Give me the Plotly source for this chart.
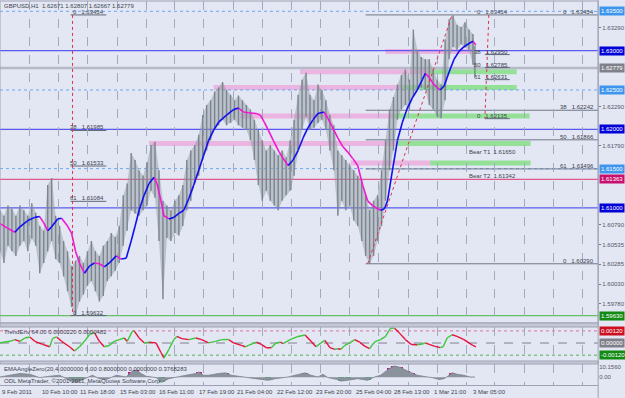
import plotly.graph_objects as go

W, H = 625, 398
XR = 602  # right edge of the plotting area (px)


def fx(x):
    return x / W


def fy(y):
    return 1 - y / H


# ---------------- data ----------------
title_text = "GBPUSD,H1  1.62671 1.62807 1.62667 1.62779"

time_labels = ["9 Feb 2011", "10 Feb 10:00", "11 Feb 18:00", "15 Feb 03:00", "16 Feb 11:00",
               "17 Feb 19:00", "21 Feb 04:00", "22 Feb 12:00", "23 Feb 20:00", "25 Feb 04:00",
               "28 Feb 13:00", "1 Mar 21:00", "3 Mar 05:00"]
time_label_pos = [0, 40, 79, 119, 158, 198, 237, 277, 316, 356, 395, 435, 474]
grid_pos = [30, 59, 88, 118, 147, 176, 205, 235, 264, 293, 323, 352, 381, 411, 440, 469, 498, 528, 557, 586]

bar_x = [0, 4, 8, 12, 16, 20, 24, 28, 32, 36, 40, 44, 48, 52, 56, 60, 64, 68, 72, 76,
         80, 84, 88, 92, 96, 100, 104, 108, 112, 116, 120, 124, 128, 132, 136, 140, 144, 148, 152, 156,
         160, 164, 168, 172, 176, 180, 184, 188, 192, 196, 200, 204, 208, 212, 216, 220, 224, 228, 232, 236,
         240, 244, 248, 252, 256, 260, 264, 268, 272, 276, 280, 284, 288, 292, 296, 300, 304, 308, 312, 316,
         320, 324, 328, 332, 336, 340, 344, 348, 352, 356, 360, 364, 368, 372, 376, 380, 384, 388, 392, 396,
         400, 404, 408, 412, 416, 420, 424, 428, 432, 436, 440, 444, 448, 452, 456, 460, 464, 468, 472, 476, 478]
bar_high = [1.6097, 1.6090, 1.6103, 1.6099, 1.6090, 1.6103, 1.6097, 1.6090, 1.6106, 1.6094,
            1.6077, 1.6071, 1.6129, 1.6138, 1.6090, 1.6077, 1.6058, 1.6045, 1.6026, 1.6033,
            1.6039, 1.6030, 1.6045, 1.6058, 1.6045, 1.6039, 1.6052, 1.6058, 1.6068, 1.6063,
            1.6077, 1.6116, 1.6131, 1.6170, 1.6161, 1.6148, 1.6141, 1.6158, 1.6180, 1.6184,
            1.6148, 1.6109, 1.6103, 1.6097, 1.6109, 1.6116, 1.6129, 1.6161, 1.6173, 1.6180,
            1.6193, 1.6218, 1.6231, 1.6237, 1.6248, 1.6253, 1.6260, 1.6250, 1.6244, 1.6237,
            1.6243, 1.6237, 1.6231, 1.6225, 1.6212, 1.6199, 1.6186, 1.6173, 1.6180, 1.6173,
            1.6167, 1.6173, 1.6164, 1.6186, 1.6212, 1.6244, 1.6263, 1.6272, 1.6244, 1.6237,
            1.6257, 1.6250, 1.6237, 1.6218, 1.6205, 1.6173, 1.6167, 1.6161, 1.6154, 1.6148,
            1.6141, 1.6135, 1.6116, 1.6097, 1.6109, 1.6116, 1.6148, 1.6186, 1.6225, 1.6241,
            1.6257, 1.6269, 1.6276, 1.6263, 1.6327, 1.6301, 1.6292, 1.6289, 1.6289, 1.6276,
            1.6263, 1.6257, 1.6314, 1.6340, 1.6345, 1.6333, 1.6330, 1.6336, 1.6327, 1.6321, 1.6306]
bar_low = [1.6045, 1.6030, 1.6052, 1.6045, 1.6039, 1.6052, 1.6058, 1.6045, 1.6061, 1.6052,
           1.6017, 1.6030, 1.6045, 1.6058, 1.6035, 1.6030, 1.6013, 1.5994, 1.5974, 1.5963,
           1.5981, 1.5990, 1.6001, 1.6007, 1.5994, 1.5981, 1.5988, 1.6007, 1.6013, 1.6020,
           1.6030, 1.6052, 1.6071, 1.6097, 1.6093, 1.6090, 1.6097, 1.6103, 1.6122, 1.6113,
           1.6058, 1.5984, 1.6062, 1.6058, 1.6068, 1.6065, 1.6077, 1.6097, 1.6109, 1.6131,
           1.6141, 1.6161, 1.6173, 1.6186, 1.6199, 1.6205, 1.6212, 1.6205, 1.6208, 1.6212,
           1.6205, 1.6202, 1.6199, 1.6186, 1.6161, 1.6129, 1.6109, 1.6122, 1.6109, 1.6103,
           1.6097, 1.6109, 1.6116, 1.6122, 1.6141, 1.6173, 1.6199, 1.6216, 1.6199, 1.6202,
           1.6208, 1.6212, 1.6199, 1.6173, 1.6148, 1.6090, 1.6109, 1.6097, 1.6103, 1.6084,
           1.6077, 1.6058, 1.6039, 1.6029, 1.6039, 1.6058, 1.6077, 1.6109, 1.6148, 1.6173,
           1.6212, 1.6225, 1.6231, 1.6225, 1.6241, 1.6250, 1.6253, 1.6250, 1.6231, 1.6225,
           1.6216, 1.6214, 1.6237, 1.6289, 1.6305, 1.6301, 1.6308, 1.6304, 1.6301, 1.6282, 1.6267]

ma_x = [0, 8, 15, 20, 28, 35, 40, 44, 48, 52, 58, 62, 68, 72, 76, 80, 85, 90, 95, 100,
        105, 110, 117, 122, 127, 132, 136, 140, 145, 150, 155, 158, 162, 165, 170, 175, 180, 185, 190, 195,
        200, 205, 210, 215, 220, 228, 235, 240, 245, 250, 258, 262, 266, 270, 275, 281, 286, 290, 295, 300,
        305, 310, 315, 320, 326, 330, 334, 340, 345, 350, 355, 360, 365, 370, 375, 380, 383, 387, 390, 395,
        400, 405, 410, 415, 420, 425, 428, 432, 436, 440, 443, 447, 452, 457, 462, 467, 472, 476, 479]
ma_val = [1.6080, 1.6074, 1.6069, 1.6076, 1.6084, 1.6088, 1.6089, 1.6081, 1.6071, 1.6076,
          1.6086, 1.6087, 1.6077, 1.6068, 1.6045, 1.6030, 1.6017, 1.6026, 1.6030, 1.6029,
          1.6025, 1.6030, 1.6039, 1.6035, 1.6036, 1.6058, 1.6077, 1.6097, 1.6116, 1.6131,
          1.6139, 1.6131, 1.6109, 1.6090, 1.6086, 1.6088, 1.6093, 1.6097, 1.6112, 1.6129,
          1.6148, 1.6167, 1.6186, 1.6199, 1.6209, 1.6218, 1.6225, 1.6227, 1.6222, 1.6221,
          1.6220, 1.6218, 1.6209, 1.6199, 1.6186, 1.6171, 1.6161, 1.6154, 1.6161, 1.6173,
          1.6189, 1.6202, 1.6212, 1.6220, 1.6222, 1.6214, 1.6204, 1.6189, 1.6178, 1.6171,
          1.6163, 1.6154, 1.6129, 1.6109, 1.6103, 1.6099, 1.6097, 1.6099, 1.6109, 1.6148,
          1.6186, 1.6209, 1.6227, 1.6240, 1.6250, 1.6263, 1.6271, 1.6266, 1.6258, 1.6253,
          1.6250, 1.6255, 1.6273, 1.6289, 1.6299, 1.6305, 1.6309, 1.6312, 1.6307]

osc_x = [0, 10, 15, 20, 25, 30, 35, 43, 50, 53, 57, 62, 70, 75, 80, 85, 90, 95, 100, 105,
         110, 115, 120, 125, 128, 133, 135, 140, 145, 150, 157, 162, 165, 170, 175, 178, 183, 190, 197, 203,
         210, 217, 223, 230, 235, 243, 247, 250, 258, 263, 268, 273, 278, 282, 285, 292, 300, 307, 313, 318,
         323, 327, 332, 337, 340, 343, 347, 352, 357, 362, 367, 372, 375, 378, 383, 388, 393, 397, 402, 408,
         414, 420, 425, 428, 432, 437, 443, 446, 450, 455, 460, 467, 472, 476, 479]
osc_val = [0.00002, 0.00017, 0.00034, 0.00017, 0.00050, 0.00060, 0.00017, -0.00014, -0.00037, 0.00046,
           0.00060, 0.00017, -0.00037, -0.00079, -0.00037, 0.00017, 0.00082, 0.00104, 0.00017, -0.00037,
           -0.00024, 0.00017, 0.00034, 0.00050, 0.00017, 0.00113, 0.00120, 0.00050, 0.00002, 0.00008,
           0.00002, -0.00094, -0.00149, -0.00062, 0.00034, 0.00065, 0.00043, 0.00034, 0.00050, 0.00034,
           0.00002, 0.00017, 0.00034, 0.00035, 0.00002, -0.00024, -0.00037, -0.00024, 0.00008, -0.00014,
           -0.00046, -0.00047, 0.00002, 0.00008, -0.00005, 0.00034, 0.00065, 0.00079, 0.00017, -0.00037,
           0.00002, 0.00027, -0.00046, -0.00062, -0.00056, -0.00062, -0.00024, 0.00002, 0.00034, 0.00008,
           -0.00031, -0.00056, -0.00014, 0.00017, 0.00034, 0.00065, 0.00146, 0.00147, 0.00098, 0.00034,
           -0.00014, -0.00017, -0.00010, 0.00002, -0.00014, -0.00031, -0.00046, -0.00037, 0.00050, 0.00082,
           0.00065, 0.00034, 0.00002, -0.00024, -0.00037]

hist_x = [0, 10, 20, 30, 40, 50, 60, 67, 72, 77, 82, 87, 93, 100, 107, 117, 127, 132, 137, 142,
          147, 157, 163, 170, 177, 187, 197, 200, 205, 210, 220, 227, 233, 243, 257, 270, 277, 290, 297, 303,
          307, 313, 320, 325, 330, 340, 343, 350, 360, 370, 377, 383, 392, 397, 403, 410, 415, 420, 430, 435,
          442, 447, 452, 455, 460, 467, 473, 478]
hist_val = [0.3, 1.9, 3.6, 2.9, -0.3, 1.0, 1.9, -1.3, -3.6, -4.9, -2.9, -0.3, 1.9, -1.3, -2.2, 1.9, 0.3, 5.1, 6.8, 3.6,
            1.0, -0.3, -4.6, -1.3, 0.3, 1.9, 3.6, 5.1, 1.9, 1.9, 3.6, 4.2, 1.9, 0.3, -1.3, -2.9, -1.3, 0.3, 1.9, 3.6,
            4.2, 1.9, 0.3, 2.9, -0.3, -2.2, -3.6, -2.9, -1.3, -2.9, 0.3, 1.9, 8.4, 10.7, 9.4, 6.0, 4.2, 1.9, 0.3, -0.3,
            -2.2, -1.3, 1.9, 4.3, 2.9, 1.9, 0.3, 0.3]
hist_hi, hist_lo = 4.0, -2.5

round_levels = [1.63000, 1.62000, 1.61000]
half_levels = [1.63500, 1.62500, 1.61500]
bid_level = 1.62779
red_level = 1.61363
green_level = 1.59630

price_ticks = [1.63290, 1.62290, 1.61790, 1.60790, 1.60535, 1.60285, 1.60030, 1.59780, 1.59530]

right_boxes = [(1.63500, "#3d95ee"), (1.63000, "#0000d8"), (1.62779, "#80808a"), (1.62500, "#3d95ee"),
               (1.62000, "#0000d8"), (1.61500, "#3d95ee"), (1.61363, "#c8106e"), (1.61000, "#0000d8"),
               (1.59630, "#138a13")]

osc_levels = [0.00120, 0.00000, -0.00120]
osc_box_colors = ["#cc1020", "#80808a", "#138a13"]

# fibonacci tools
lfib_x = 73
lfib_levels = [1.63454, 1.61985, 1.61533, 1.61084, 1.59632]
lfib_names = ["0", "38", "50", "61", "0"]
bfib_start = (370, 1.60290)
bfib_end = (455, 1.63454)
bfib_levels = [1.63454, 1.62242, 1.61866, 1.61496, 1.60290]
bfib_names = ["0", "38", "50", "61", "0"]
sfib_levels = [1.63454, 1.62950, 1.62785, 1.62631, 1.62135]
sfib_names = ["0", "38", "50", "61", "0"]
sfib_x = (492, 488)

bear_labels = ["Bear T1", "Bear T2"]
bear_levels = [1.61650, 1.61342]

zone_levels = [1.6299, 1.6273, 1.6253, 1.6217, 1.6182, 1.6157]
zone_pink_from = [388, 302, 215, 242, 150, 353]
zone_pink_to = [478, 432, 405, 397, 400, 433]
zone_green_to = [478, 520, 520, 533, 534, 534]

osc_title = "TrendEnv 64.00 0.0000220 0.0000482"
hist_title = "EMAAngleZero(20,4.0000000 6.00 0.8000000 0.0000000 0.3768283"
copyright_text = "ODL MetaTrader, \u00a92001-2011, MetaQuotes Software Corp."

# ---------------- figure ----------------
BG = "#e3e6f3"
FONT = "Liberation Sans"
TXT = "#3c4450"
FS = 6

fig = go.Figure()

# price bars: light envelope + vertical strokes
fig.add_trace(go.Scatter(x=bar_x, y=bar_high, mode="lines", line=dict(width=0, color="#a2abb3"),
                         hoverinfo="skip", showlegend=False))
fig.add_trace(go.Scatter(x=bar_x, y=bar_low, mode="lines", line=dict(width=0, color="#a2abb3"),
                         fill="tonexty", fillcolor="rgba(140,150,158,0.45)", hoverinfo="skip", showlegend=False))
sx, sy = [], []
for x, h, l in zip(bar_x, bar_high, bar_low):
    sx += [x, x, None]
    sy += [l, h, None]
fig.add_trace(go.Scatter(x=sx, y=sy, mode="lines", line=dict(width=1.4, color="#7a858e"),
                         hoverinfo="skip", showlegend=False))


def split_colored(xs, ys, up_color, down_color, width, yaxis, xaxis):
    ux, uy, dx, dy = [], [], [], []
    for i in range(len(xs) - 1):
        seg_x = [xs[i], xs[i + 1], None]
        seg_y = [ys[i], ys[i + 1], None]
        if ys[i + 1] >= ys[i]:
            ux += seg_x
            uy += seg_y
        else:
            dx += seg_x
            dy += seg_y
    for X, Y, c in ((dx, dy, down_color), (ux, uy, up_color)):
        fig.add_trace(go.Scatter(x=X, y=Y, mode="lines", line=dict(width=width, color=c),
                                 xaxis=xaxis, yaxis=yaxis, hoverinfo="skip", showlegend=False))


split_colored(ma_x, ma_val, "#1010f0", "#f018d0", 1.6, "y", "x")
split_colored(osc_x, osc_val, "#3cc83c", "#e8103c", 1.4, "y2", "x2")

# histogram panel
fig.add_trace(go.Scatter(x=hist_x, y=hist_val, mode="lines", line=dict(width=0.8, color="#7c848e"),
                         fill="tozeroy", fillcolor="#8a929c", xaxis="x3", yaxis="y3",
                         hoverinfo="skip", showlegend=False))
hx = [x for x, v in zip(hist_x, hist_val) if v >= hist_hi or v <= hist_lo]
hv = [v for v in hist_val if v >= hist_hi or v <= hist_lo]
hc = ["#d0108a" if v >= hist_hi else "#28b050" for v in hv]
fig.add_trace(go.Bar(x=hx, y=hv, marker=dict(color=hc, line=dict(width=0)), width=6,
                     xaxis="x3", yaxis="y3", hoverinfo="skip", showlegend=False))

shapes = []


def hline(yv, x0, x1, color, width, dash="solid", yref="y", xref="x"):
    shapes.append(dict(type="line", xref=xref, yref=yref, x0=x0, x1=x1, y0=yv, y1=yv,
                       line=dict(color=color, width=width, dash=dash), layer="below"))


# support/resistance zones
for lv, p0, p1, g1 in zip(zone_levels, zone_pink_from, zone_pink_to, zone_green_to):
    hline(lv, p0, p1, "rgba(238,160,216,0.7)", 5)
    if g1 > p1:
        hline(lv, p1, g1, "rgba(128,222,128,0.8)", 5)

# horizontal levels
for lv in half_levels:
    hline(lv, 0, XR, "#6aa8f4", 1, "dot")
for lv in round_levels:
    hline(lv, 0, XR, "#5a5af0", 1.2)
hline(bid_level, 0, XR, "#b6b9c8", 2.5)
hline(red_level, 0, XR, "#e0588c", 1.2)
hline(green_level, 0, XR, "#64c064", 1.2)

# oscillator levels
hline(osc_levels[0], 0, XR, "#e070a8", 1, "dot", yref="y2", xref="x2")
hline(osc_levels[1], 0, XR, "#80808e", 1, "dash", yref="y2", xref="x2")
hline(osc_levels[2], 0, XR, "#50b050", 1, "dot", yref="y2", xref="x2")

ann = []


def label(x, y, text, xref="x", yref="y", xanchor="right", yanchor="bottom", size=FS, color=TXT, **kw):
    d = dict(x=x, y=y, xref=xref, yref=yref, text=text, showarrow=False, xanchor=xanchor, yanchor=yanchor,
             font=dict(family=FONT, size=size, color=color))
    d.update(kw)
    ann.append(d)


# left fibo
for lv, nm in zip(lfib_levels, lfib_names):
    hline(lv, lfib_x - 2, lfib_x + 34, "#606878", 1)
    label(lfib_x + 34, lv, f"{nm}   {lv:.5f}", yshift=-2)
shapes.append(dict(type="line", xref="x", yref="y", x0=lfib_x, x1=lfib_x, y0=lfib_levels[0], y1=lfib_levels[-1],
                   line=dict(color="#e03050", width=1, dash="dot")))

# big fibo
for lv, nm in zip(bfib_levels, bfib_names):
    hline(lv, bfib_start[0] - 2, XR, "#707888", 1)
    label(XR - 2, lv, f"{nm}   {lv:.5f}", yshift=-2)
shapes.append(dict(type="line", xref="x", yref="y", x0=bfib_start[0], y0=bfib_start[1], x1=bfib_end[0],
                   y1=bfib_end[1], line=dict(color="#e03050", width=1, dash="dot")))

# small fibo
for i, (lv, nm) in enumerate(zip(sfib_levels, sfib_names)):
    if i > 0:
        hline(lv, sfib_x[1], sfib_x[1] + 25, "#606878", 1)
    label(sfib_x[1] + 25, lv, f"{nm}   {lv:.5f}", yshift=-2)
shapes.append(dict(type="line", xref="x", yref="y", x0=sfib_x[0], x1=sfib_x[1], y0=sfib_levels[0],
                   y1=sfib_levels[-1], line=dict(color="#e03050", width=1, dash="dot")))

for nm, lv in zip(bear_labels, bear_levels):
    label(470, lv, f"{nm}  {lv:.5f}", xanchor="left")

# right side price boxes
for lv, c in right_boxes:
    label(fx(XR + 1), lv, f"{lv:.5f}", xref="paper", xanchor="left", yanchor="middle", color="white",
          bgcolor=c, borderpad=1)
for lv, c in zip(osc_levels, osc_box_colors):
    label(fx(XR + 1), lv, f"{lv:.5f}", xref="paper", yref="y2", xanchor="left", yanchor="middle",
          color="white", bgcolor=c, borderpad=1)

# texts
label(fx(2), fy(6), title_text, xref="paper", yref="paper", xanchor="left", yanchor="middle")
label(fx(2), fy(332), osc_title, xref="paper", yref="paper", xanchor="left", yanchor="middle")
label(fx(2), fy(369), hist_title, xref="paper", yref="paper", xanchor="left", yanchor="middle")
label(fx(2), fy(381), copyright_text, xref="paper", yref="paper", xanchor="left", yanchor="middle")
for t, p in zip(time_labels, time_label_pos):
    label(p, fy(392), t, xref="x3", yref="paper", xanchor="left", yanchor="middle")

# panel frames / separators
BORDER = "#9ea2b4"
shapes.append(dict(type="rect", xref="paper", yref="paper", x0=fx(0), x1=fx(XR), y0=fy(323), y1=fy(1),
                   line=dict(color=BORDER, width=1)))
shapes.append(dict(type="rect", xref="paper", yref="paper", x0=fx(0), x1=fx(XR), y0=fy(327), y1=fy(323),
                   fillcolor="#c4c7d4", line=dict(color=BORDER, width=1)))
shapes.append(dict(type="rect", xref="paper", yref="paper", x0=fx(0), x1=fx(XR), y0=fy(364), y1=fy(361),
                   fillcolor="#c4c7d4", line=dict(color=BORDER, width=1)))
shapes.append(dict(type="line", xref="paper", yref="paper", x0=fx(0), x1=fx(XR), y0=fy(385.5), y1=fy(385.5),
                   line=dict(color=BORDER, width=1)))
shapes.append(dict(type="line", xref="paper", yref="paper", x0=fx(XR), x1=fx(XR), y0=fy(398), y1=fy(0),
                   line=dict(color=BORDER, width=1)))

xcommon = dict(range=[0, XR], domain=[0, fx(XR)], showticklabels=False, tickvals=grid_pos,
               showgrid=True, gridcolor="#a4aabd", griddash="dash", gridwidth=1, zeroline=False,
               showline=False, ticks="", fixedrange=True)

fig.update_layout(
    width=W, height=H, autosize=False,
    margin=dict(l=0, r=0, t=0, b=0),
    paper_bgcolor=BG, plot_bgcolor=BG,
    showlegend=False, bargap=0,
    font=dict(family=FONT, size=FS, color=TXT),
    xaxis=dict(anchor="y", **xcommon),
    xaxis2=dict(anchor="y2", matches="x", **xcommon),
    xaxis3=dict(anchor="y3", matches="x", **xcommon),
    yaxis=dict(domain=[fy(323), fy(1)], range=[1.59537, 1.63631], side="right", anchor="x",
               tickvals=price_ticks, ticktext=[f"{v:.5f}" for v in price_ticks], ticks="outside",
               ticklen=2, tickcolor="#707888", tickfont=dict(size=FS, color="#505868"),
               showgrid=False, zeroline=False, fixedrange=True),
    yaxis2=dict(domain=[fy(361), fy(327)], range=[-0.001776, 0.001584], side="right", anchor="x2",
                showticklabels=False, showgrid=False, zeroline=False, fixedrange=True),
    yaxis3=dict(domain=[fy(385.5), fy(364)], range=[-7.8, 12.6], side="right", anchor="x3",
                tickvals=[10.156, 0, -8.23015], ticktext=["10.1560", "0.00", "-8.23015"],
                ticks="", tickfont=dict(size=FS, color="#505868"),
                showgrid=False, zeroline=False, fixedrange=True),
    shapes=shapes,
    annotations=ann,
)

fig.write_html("out.html")
